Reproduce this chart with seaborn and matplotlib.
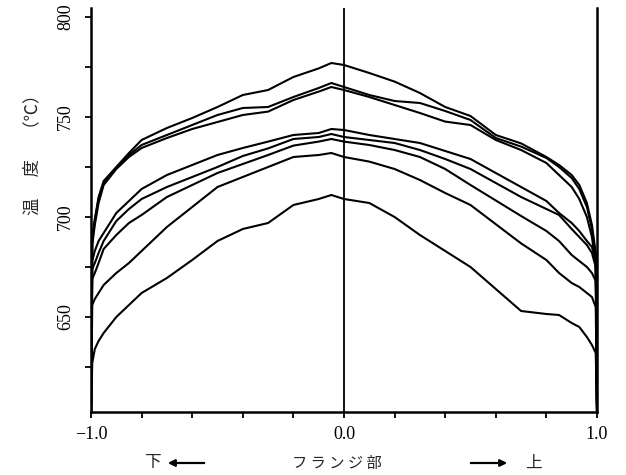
import numpy as np
import pandas as pd
import seaborn as sns
import matplotlib.pyplot as plt
from matplotlib.ticker import FixedLocator

# position across the flange (-1 = lower edge, 1 = upper edge)
x_left = [-1.0, -0.995, -0.985, -0.97, -0.95, -0.9, -0.85, -0.8, -0.7, -0.6, -0.5,
          -0.4, -0.3, -0.2, -0.1, -0.05, 0.0]
x_right = [0.1, 0.2, 0.3, 0.4, 0.5, 0.6, 0.7, 0.8, 0.85, 0.9, 0.93, 0.96, 0.98, 0.995, 1.0]

# temperature (deg C), one list per measured profile
temp_a = [603, 690, 699, 710, 718, 725, 732, 738.5, 744.5, 749.5, 755, 761, 763.5, 770, 774.3, 777, 776,
          772, 767.7, 762, 755, 750.5, 741, 736.8, 730, 726, 721, 716, 707, 696, 682, 603]
temp_b = [603, 688, 698, 709, 717, 724.5, 731, 736, 741, 746, 751, 754.5, 755, 760, 764.5, 767, 765,
          761, 758, 757, 753, 748.5, 739.5, 735.2, 729.5, 725, 719.5, 714, 705, 694, 680, 603]
temp_c = [603, 686, 696, 707, 716, 724, 730, 734.5, 739.5, 744, 747.5, 751, 752.7, 758.5, 762.7, 765, 763.5,
          760, 756, 752, 747.7, 746, 738.5, 733.5, 727, 721, 715, 709, 700, 690, 676, 603]
temp_d = [603, 678, 683, 688, 692, 702, 708, 714, 721, 726, 731, 734.5, 737.7, 741, 742, 744, 743.5,
          741, 739, 737, 733, 729, 715, 708, 702, 697, 693, 688, 685, 678, 603]
temp_e = [603, 674, 677, 682, 688, 698, 704, 709, 715, 720, 725, 730.5, 734.3, 739, 740, 741.5, 740,
          738.5, 737, 733.5, 729, 724, 710, 704, 701, 694, 690, 686, 682, 675, 603]
temp_f = [603, 669, 672, 677, 684, 691, 697, 701, 710, 716, 722, 726.5, 731, 735.7, 737.7, 739, 737.7,
          736, 733.5, 730, 724, 716, 700.5, 693, 688, 681, 678, 675, 672, 668, 603]
temp_g = [603, 656, 659, 662, 666, 672, 677, 683, 695, 705, 715, 720, 725, 730, 731, 732, 730,
          727.7, 724, 718.5, 712, 706, 686.8, 678.5, 672, 667, 665, 662, 660, 655, 603]
temp_h = [603, 627, 634, 638, 642, 650, 656, 662, 669.5, 678.5, 688, 694, 697, 706, 709, 711, 709,
          707, 700, 691, 683, 675, 653, 651.5, 651, 647, 645, 640, 636, 632, 603]

profiles = {"a": temp_a, "b": temp_b, "c": temp_c, "d": temp_d,
            "e": temp_e, "f": temp_f, "g": temp_g, "h": temp_h}

x_full = x_left + x_right
x_short = x_left + [0.1, 0.2, 0.3, 0.4, 0.5, 0.7, 0.8, 0.85, 0.9, 0.93, 0.96, 0.98, 0.995, 1.0]

rows = []
for name, vals in profiles.items():
    xs = x_full if len(vals) == len(x_full) else x_short
    for xv, tv in zip(xs, vals):
        rows.append((name, xv, tv))
df = pd.DataFrame(rows, columns=["run", "pos", "temp"])

sns.set_style("ticks")
plt.rcParams["font.family"] = ["Liberation Serif", "DejaVu Serif"]
jp = ["Noto Sans CJK JP", "DejaVu Sans"]

fig = plt.figure(figsize=(6.26, 4.75), dpi=100)
ax = fig.add_axes([91 / 626, 1 - 412 / 475, 506 / 626, 404 / 475])

sns.lineplot(data=df, x="pos", y="temp", units="run", estimator=None,
             color="black", linewidth=1.5, sort=False, ax=ax)

ax.axvline(0.0, color="black", linewidth=1.3)

ax.set_xlim(-1.0, 1.0)
ax.set_ylim(602.5, 804.5)

ax.xaxis.set_major_locator(FixedLocator([-1.0, 0.0, 1.0]))
ax.xaxis.set_minor_locator(FixedLocator([-0.8, -0.6, -0.4, -0.2, 0.2, 0.4, 0.6, 0.8]))
ax.set_xticklabels(["\u22121.0", "0.0", "1.0"])
ax.yaxis.set_major_locator(FixedLocator([650, 700, 750, 800]))
ax.yaxis.set_minor_locator(FixedLocator([625, 675, 725, 775]))
for lab in ax.get_yticklabels():
    lab.set_rotation(90)
    lab.set_va("center")

ax.tick_params(axis="both", which="both", direction="out", length=4, width=1.3,
               colors="black", labelsize=13)
ax.tick_params(axis="y", pad=8)
ax.tick_params(axis="x", pad=6)

sns.despine(ax=ax, top=True, right=False)
for side in ["left", "bottom", "right"]:
    ax.spines[side].set_linewidth(1.8)
    ax.spines[side].set_color("black")

ax.set_xlabel("")
ax.set_ylabel("")
fig.text(32 / 626, 1 - 150 / 475, "温　 度　 （℃）", rotation=90, ha="center", va="center",
         fontsize=12.5, family=jp)

ty = 1 - 463 / 475
fig.text(152 / 626, ty, "下", ha="center", va="center", fontsize=12, family=jp)
fig.text(337 / 626, ty, "フ ラ ン ジ 部", ha="center", va="center", fontsize=11, family=jp)
fig.text(533 / 626, ty, "上", ha="center", va="center", fontsize=12, family=jp)
ax.annotate("", xy=(165, 475 - 463), xytext=(207, 475 - 463), xycoords="figure pixels",
            arrowprops=dict(arrowstyle="-|>", color="black", lw=1.6, mutation_scale=10))
ax.annotate("", xy=(510, 475 - 463), xytext=(468, 475 - 463), xycoords="figure pixels",
            arrowprops=dict(arrowstyle="-|>", color="black", lw=1.6, mutation_scale=10))

fig.savefig("out.png", dpi=100, facecolor="white")
